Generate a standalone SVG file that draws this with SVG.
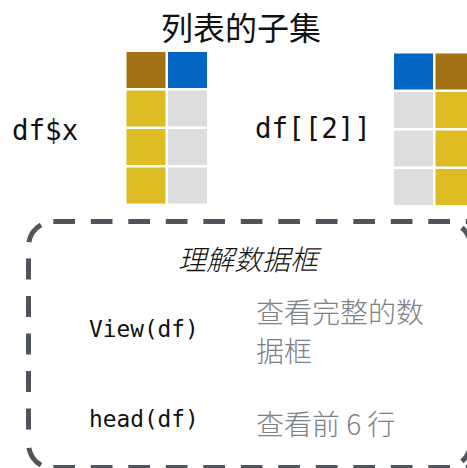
<svg xmlns="http://www.w3.org/2000/svg" width="467" height="468" viewBox="0 0 467 468">
<style>
.title{font-family:"Noto Sans CJK SC","Noto Sans",sans-serif;font-size:32px;fill:#111;text-anchor:middle}
.code{font-family:"DejaVu Sans Mono","Liberation Mono",monospace;fill:#111}
.desc{font-family:"Noto Sans CJK SC","Noto Sans",sans-serif;font-size:28px;font-weight:300;fill:#7D8085}
.sub{font-family:"Noto Sans CJK SC","Noto Sans",sans-serif;font-size:28px;font-weight:300;font-style:italic;fill:#111;text-anchor:middle}
.brown{fill:#A27214}.blue{fill:#0565C2}.yellow{fill:#DEBC23}.grey{fill:#DCDDDF}
.box{fill:none;stroke:#50555B;stroke-width:5}
</style>
<text class="title" x="241" y="39.5">列表的子集</text>
<g id="grid-left">
<rect class="brown" x="126.5" y="52" width="39" height="36"/>
<rect class="blue" x="168" y="52" width="39" height="36"/>
<rect class="yellow" x="126.5" y="90.5" width="39" height="36"/>
<rect class="grey" x="168" y="90.5" width="39" height="36"/>
<rect class="yellow" x="126.5" y="129" width="39" height="36"/>
<rect class="grey" x="168" y="129" width="39" height="36"/>
<rect class="yellow" x="126.5" y="167.5" width="39" height="36"/>
<rect class="grey" x="168" y="167.5" width="39" height="36"/>
</g>
<g id="grid-right">
<rect class="blue" x="394" y="53.5" width="39" height="36"/>
<rect class="brown" x="435.5" y="53.5" width="39" height="36"/>
<rect class="grey" x="394" y="92" width="39" height="36"/>
<rect class="yellow" x="435.5" y="92" width="39" height="36"/>
<rect class="grey" x="394" y="130.5" width="39" height="36"/>
<rect class="yellow" x="435.5" y="130.5" width="39" height="36"/>
<rect class="grey" x="394" y="169" width="39" height="36"/>
<rect class="yellow" x="435.5" y="169" width="39" height="36"/>
</g>
<text class="code" x="12" y="140" font-size="27.5">df$x</text>
<text class="code" x="255" y="138.3" font-size="27.5">df[[2]]</text>
<g id="box">
<line class="box" x1="53.3" y1="221.5" x2="470" y2="221.5" stroke-dasharray="21.7 15.8"/>
<line class="box" x1="53.3" y1="467.5" x2="470" y2="467.5" stroke-dasharray="21.7 15.8"/>
<line class="box" x1="28.5" y1="258.5" x2="28.5" y2="430" stroke-dasharray="21 16.5"/>
<path class="box" d="M28.88,242.16 A25,25 0 0 1 41,224.85"/>
<path class="box" d="M28.88,447.84 A25,25 0 0 0 41,465.15"/>
<path class="box" d="M461.9,227.6 A25,25 0 0 1 470.5,246.5"/>
<path class="box" d="M470.5,442.5 A25,25 0 0 1 461.9,461.4"/>
<text class="sub" x="248" y="269.5">理解数据框</text>
<text class="code" x="89" y="337.3" font-size="22.8">View(df)</text>
<text class="desc" x="256" y="323">查看完整的数</text>
<text class="desc" x="256" y="361.5">据框</text>
<text class="code" x="89" y="426.5" font-size="22.8">head(df)</text>
<text class="desc" x="256" y="434.5">查看前 6 行</text>
</g>
</svg>
